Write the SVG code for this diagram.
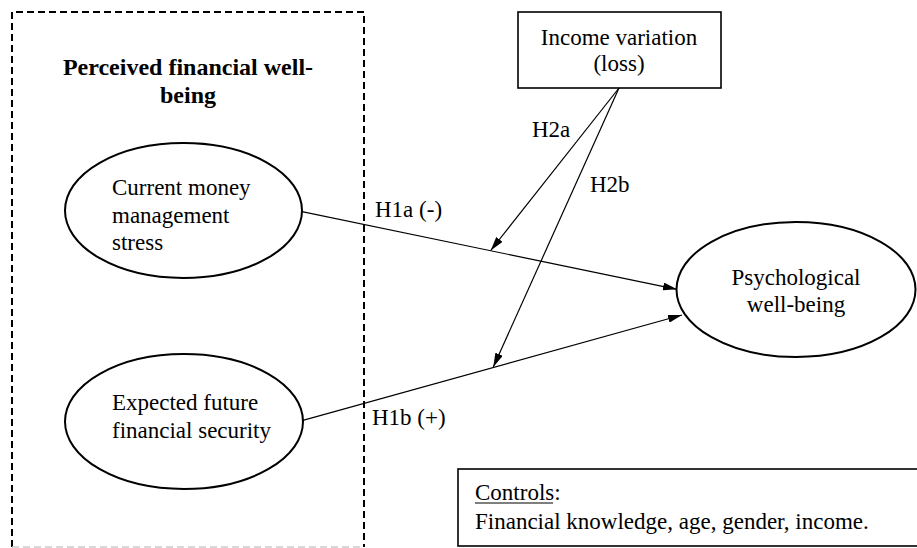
<svg xmlns="http://www.w3.org/2000/svg" width="917" height="548" viewBox="0 0 917 548">
<style>
text{font-family:'Liberation Serif','Times New Roman',Times,'DejaVu Serif',serif;font-size:23px;fill:#000}
.b{font-weight:bold;font-size:24px}
.node{fill:#fff;stroke:#000;stroke-width:2}
.box{fill:#fff;stroke:#000;stroke-width:1.6}
.dash{fill:none;stroke:#000;stroke-width:2;stroke-dasharray:7 4}
.conn{fill:none;stroke:#000;stroke-width:1.2;marker-end:url(#ah)}
</style>
<defs>
<marker id="ah" viewBox="0 0 14 8" refX="14" refY="4" markerWidth="14" markerHeight="8" markerUnits="userSpaceOnUse" orient="auto">
<path d="M0,0 L14,4 L0,8 Z" fill="#000"/>
</marker>
</defs>
<rect width="917" height="548" fill="#fff"/>
<g id="group-pfwb">
<path class="dash" d="M12,547 L12,12 L364,12 L364,547"/>
<line x1="12" y1="547" x2="364" y2="547" stroke="#ccc" stroke-width="1.5" stroke-dasharray="7 4"/>
<text class="b" x="188" y="75" text-anchor="middle" font-family="Liberation Serif, serif">Perceived financial well-</text>
<text class="b" x="188" y="103" text-anchor="middle" font-family="Liberation Serif, serif">being</text>
</g>
<g id="node-current">
<ellipse class="node" cx="183.5" cy="210.5" rx="118.5" ry="67.5"/>
<text x="112" y="195">Current money</text>
<text x="112" y="223">management</text>
<text x="112" y="250">stress</text>
</g>
<g id="node-expected">
<ellipse class="node" cx="184" cy="421.5" rx="119" ry="67.5"/>
<text x="112" y="410">Expected future</text>
<text x="112" y="438">financial security</text>
</g>
<g id="node-income">
<rect class="box" x="518" y="12" width="203" height="76"/>
<text x="619" y="45" text-anchor="middle">Income variation</text>
<text x="619" y="71" text-anchor="middle">(loss)</text>
</g>
<g id="node-psych">
<ellipse class="node" cx="796" cy="289.5" rx="119.5" ry="67.5"/>
<text x="796" y="285" text-anchor="middle">Psychological</text>
<text x="796" y="312" text-anchor="middle">well-being</text>
</g>
<g id="node-controls">
<rect class="box" x="458" y="469" width="470" height="77"/>
<text x="475" y="500">Controls:</text>
<line x1="475" y1="503" x2="553" y2="503" stroke="#000" stroke-width="1.2"/>
<text x="475" y="529">Financial knowledge, age, gender, income.</text>
</g>
<g id="connectors">
<line class="conn" x1="302" y1="211.7" x2="677" y2="289.3"/>
<line class="conn" x1="302" y1="420.7" x2="682" y2="315"/>
<line class="conn" x1="619" y1="88" x2="490.7" y2="250.5"/>
<line class="conn" x1="619" y1="88" x2="493.3" y2="367"/>
<text x="532" y="137">H2a</text>
<text x="590" y="192">H2b</text>
<text x="375" y="217">H1a (-)</text>
<text x="372" y="425">H1b (+)</text>
</g>
</svg>
